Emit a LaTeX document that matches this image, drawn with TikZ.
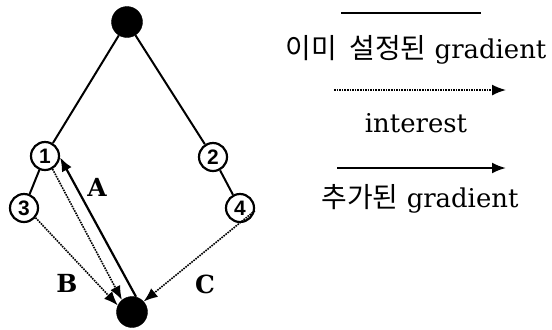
\documentclass[tikz,border=0pt]{standalone}
\usepackage{fontspec}
\setmainfont{DejaVu Serif}
\newfontfamily\krfont{Noto Sans CJK KR}
\newfontfamily\numfont{Liberation Sans}
\usetikzlibrary{arrows.meta}
\tikzset{
  blackdot/.style={circle,fill=black,draw=black,minimum size=31bp,inner sep=0pt},
  numnode/.style={circle,draw=black,line width=2.2pt,minimum size=28bp,inner sep=0pt,font=\numfont\bfseries\fontsize{21}{21}\selectfont},
  edge/.style={line width=2pt},
  solidarrow/.style={line width=2.2pt,-{Latex[length=14bp,width=11bp]}},
  dotarrow/.style={line width=1.6pt,densely dotted,-{Latex[length=14bp,width=11bp]}},
  lbl/.style={font=\bfseries\fontsize{25}{25}\selectfont},
  legtext/.style={font=\fontsize{26}{26}\selectfont}
}
\begin{document}
\begin{tikzpicture}[x=1bp,y=-1bp]
\useasboundingbox (0,0) rectangle (552,329);
\node[blackdot] (top) at (127,22) {};
\node[blackdot] (bot) at (132,312) {};
\node[numnode] (n1) at (45,156) {1};
\node[numnode] (n2) at (213,157) {2};
\node[numnode] (n3) at (24,208) {3};
\node[numnode] (n4) at (240,208) {4};
\draw[edge] (top) -- (n1);
\draw[edge] (top) -- (n2);
\draw[edge] (n1) -- (n3);
\draw[edge] (n2) -- (n4);
\draw[solidarrow] (bot.75) -- (n1.-5);
\draw[dotarrow] (n1.-60) -- (bot.130);
\draw[dotarrow] (n3.-40) -- (bot.155);
\draw[dotarrow] (n4.-10) -- (bot.42);
\node[lbl] (la) at (97,187) {A};
\node[lbl] (lb) at (67,283) {B};
\node[lbl] (lc) at (205,284) {C};
% legend
\coordinate (l1a) at (341,13);
\coordinate (l1b) at (481,13);
\draw[line width=2.8pt] (l1a) -- (l1b);
\node[legtext,anchor=base] (t1) at (416,58) {{\krfont\fontsize{28}{28}\selectfont 이미\ \ 설정된} gradient};
\coordinate (l2a) at (334,90);
\coordinate (l2b) at (506,90);
\draw[dotarrow] (l2a) -- (l2b);
\node[legtext,anchor=base] (t2) at (416,132) {interest};
\coordinate (l3a) at (337,168);
\coordinate (l3b) at (506,168);
\draw[solidarrow] (l3a) -- (l3b);
\node[legtext,anchor=base] (t3) at (420,207) {{\krfont\fontsize{28}{28}\selectfont 추가된} gradient};
\end{tikzpicture}
\end{document}
